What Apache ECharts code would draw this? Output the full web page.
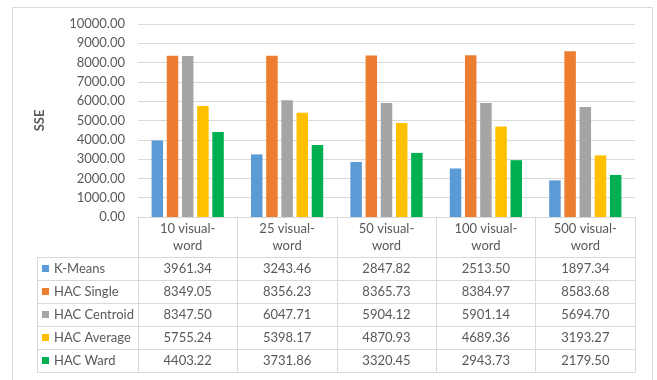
<!DOCTYPE html>
<html><head><meta charset="utf-8">
<script src="https://cdn.jsdelivr.net/npm/echarts@6/dist/echarts.min.js"></script>
<style>html,body{margin:0;padding:0;background:#fff}#c{width:657px;height:380px}</style>
</head><body><div id="c"></div>
<script>
var categories = ['10 visual-\nword', '25 visual-\nword', '50 visual-\nword', '100 visual-\nword', '500 visual-\nword'];
var seriesNames = ['K-Means', 'HAC Single', 'HAC Centroid', 'HAC Average', 'HAC Ward'];
var kMeans = [3961.34, 3243.46, 2847.82, 2513.50, 1897.34];
var hacSingle = [8349.05, 8356.23, 8365.73, 8384.97, 8583.68];
var hacCentroid = [8347.50, 6047.71, 5904.12, 5901.14, 5694.70];
var hacAverage = [5755.24, 5398.17, 4870.93, 4689.36, 3193.27];
var hacWard = [4403.22, 3731.86, 3320.45, 2943.73, 2179.50];
var yTicks = [0, 1000, 2000, 3000, 4000, 5000, 6000, 7000, 8000, 9000, 10000];

var values = [kMeans, hacSingle, hacCentroid, hacAverage, hacWard];
var colors = ['#5B9BD5', '#ED7D31', '#A5A5A5', '#FFC000', '#00B050'];
var txt = '#595959', line = '#D9D9D9';
var headerH = 40, rowH = 23, fs = 13;
var gridBottomY = 217;

var chart = echarts.init(document.getElementById('c'), null, {renderer: 'canvas'});

var xAxes = [{
  type: 'category', data: categories, position: 'bottom', gridIndex: 0,
  axisLine: {lineStyle: {color: line}},
  axisTick: {show: true, length: headerH, interval: 0, lineStyle: {color: line}},
  axisLabel: {color: txt, fontSize: fs, lineHeight: 17, margin: 3, interval: 0}
}];
values.forEach(function (arr, i) {
  xAxes.push({
    type: 'category', data: categories, position: 'bottom', gridIndex: 0,
    offset: headerH + rowH * i,
    axisLine: {lineStyle: {color: line}},
    axisTick: {show: true, length: rowH, interval: 0, lineStyle: {color: line}},
    axisLabel: {color: txt, fontSize: fs, lineHeight: 15, margin: 4, interval: 0,
      formatter: function (v, idx) { return arr[idx].toFixed(2); }}
  });
});
xAxes.push({
  type: 'category', data: categories, position: 'bottom', gridIndex: 0,
  offset: headerH + rowH * values.length,
  axisLine: {lineStyle: {color: line}}, axisTick: {show: false}, axisLabel: {show: false}
});

var tableTop = gridBottomY + headerH;
var graphics = [
  {type: 'rect', shape: {x: 12.5, y: 7.5, width: 640, height: 380}, style: {fill: null, stroke: line, lineWidth: 1}, silent: true},
  {type: 'line', shape: {x1: 37.5, y1: tableTop, x2: 37.5, y2: tableTop + rowH * values.length}, style: {stroke: line, lineWidth: 1}}
];
for (var r = 0; r <= values.length; r++) {
  var yy = tableTop + rowH * r + 0.5;
  graphics.push({type: 'line', shape: {x1: 37, y1: yy, x2: 138, y2: yy}, style: {stroke: line, lineWidth: 1}});
}

var legends = seriesNames.map(function (n, i) {
  return {
    orient: 'vertical', left: 42, top: tableTop + rowH * i + 4, itemWidth: 7, itemHeight: 7,
    icon: 'rect', data: [n], padding: 0,
    textStyle: {color: txt, fontSize: fs, lineHeight: 15}
  };
});

chart.setOption({
  animation: false,
  textStyle: {fontFamily: 'Lato'},
  color: colors,
  grid: {left: 138, right: 22, top: 24, bottom: 380 - gridBottomY, containLabel: false},
  legend: legends,
  xAxis: xAxes,
  yAxis: {
    type: 'value', min: yTicks[0], max: yTicks[yTicks.length - 1], interval: 1000,
    name: 'SSE', nameLocation: 'middle', nameRotate: 90, nameGap: 92,
    nameTextStyle: {color: txt, fontSize: 13, fontWeight: 'bold'},
    axisLine: {show: false}, axisTick: {show: false},
    axisLabel: {color: txt, fontSize: 13, margin: 13, formatter: function (v) { return v.toFixed(2); }},
    splitLine: {lineStyle: {color: line}}
  },
  series: seriesNames.map(function (n, i) {
    return {name: n, type: 'bar', xAxisIndex: 0, data: values[i], barWidth: 11.5, barGap: '32%'};
  }),
  graphic: graphics
});
</script></body></html>
